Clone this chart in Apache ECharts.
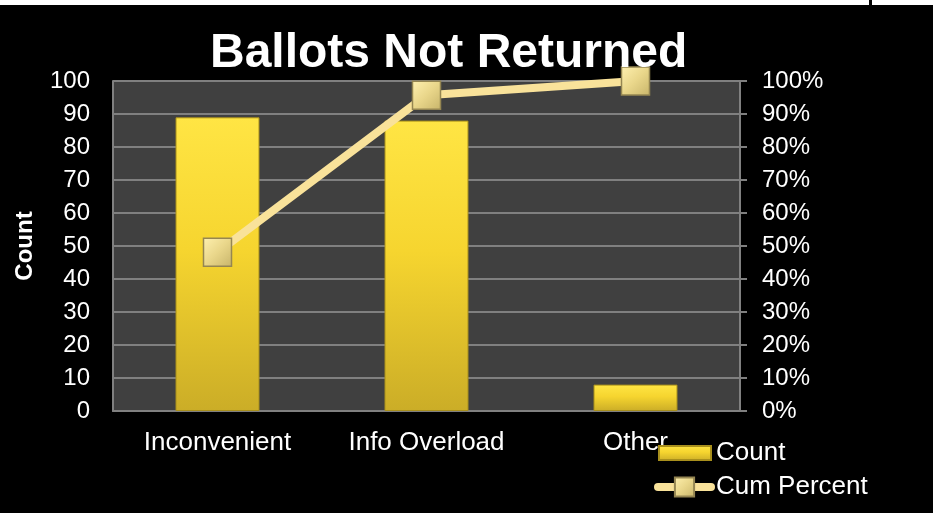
<!DOCTYPE html>
<html>
<head>
<meta charset="utf-8">
<script src="https://cdn.jsdelivr.net/npm/echarts@6/dist/echarts.min.js"></script>
<style>
  html, body { margin: 0; padding: 0; background: #000; }
  #chart { width: 933px; height: 513px; }
</style>
</head>
<body>
<div id="chart"></div>
<script>
const categories = ["Inconvenient", "Info Overload", "Other"];
const counts = [89, 88, 8];
const cumPercent = [48.1, 95.7, 100];

const font = "Liberation Sans, Arial, sans-serif";

const chart = echarts.init(document.getElementById("chart"), null, { renderer: "canvas" });

const barColor = new echarts.graphic.LinearGradient(0, 0, 0, 1, [
	{ offset: 0, color: "#FFE544" },
	{ offset: 0.45, color: "#F6D52F" },
	{ offset: 1, color: "#CBAD27" },
]);
const markerColor = new echarts.graphic.LinearGradient(0, 0, 1, 1, [
	{ offset: 0, color: "#FFF1B0" },
	{ offset: 0.5, color: "#E9D68A" },
	{ offset: 1, color: "#C7B46A" },
]);

//legend text
const legendText = { color: "#fff", fontSize: 26, fontFamily: font };

chart.setOption({
	backgroundColor: "#000",
	textStyle: { fontFamily: font, color: "#fff" },
	graphic: [
		{ type: "rect", shape: { x: 0, y: 0, width: 869, height: 5 }, style: { fill: "#fff" }, silent: true },
		{ type: "rect", shape: { x: 872, y: 0, width: 61, height: 5 }, style: { fill: "#fff" }, silent: true },
	],
	title: {
		text: "Ballots Not Returned",
		left: 205,
		top: 25,
		textStyle: { color: "#fff", fontSize: 48, fontWeight: "bold", fontFamily: font },
	},
	grid: {
		left: 113,
		top: 81,
		width: 627,
		height: 330,
		show: true,
		backgroundColor: "#404040",
		borderWidth: 0,
	},
	legend: [
		{
			left: 658,
			top: 440,
			padding: 0,
			itemWidth: 52,
			itemHeight: 14,
			icon: "rect",
			textStyle: legendText,
			data: ["Count"],
		},
		{
			left: 654,
			top: 474,
			padding: 0,
			itemWidth: 53,
			itemHeight: 24,
			lineStyle: { width: 8, cap: "round" },
			textStyle: legendText,
			data: ["Cum Percent"],
		},
	],
	xAxis: {
		type: "category",
		data: categories,
		axisLine: { lineStyle: { color: "#808080", width: 2 } },
		axisTick: { show: false },
		axisLabel: { color: "#fff", fontSize: 26, margin: 19, fontFamily: font },
	},
	yAxis: [
		{
			type: "value",
			min: 0,
			max: 100,
			interval: 10,
			name: "Count",
			nameLocation: "middle",
			nameGap: 76,
			nameTextStyle: { color: "#fff", fontSize: 24, fontWeight: "bold", fontFamily: font },
			axisLine: { show: true, lineStyle: { color: "#808080", width: 2 } },
			axisTick: { show: false },
			axisLabel: { color: "#fff", fontSize: 24, margin: 23, fontFamily: font },
			splitLine: { lineStyle: { color: "#808080", width: 2 } },
		},
		{
			type: "value",
			min: 0,
			max: 100,
			interval: 10,
			position: "right",
			axisLine: { show: true, lineStyle: { color: "#808080", width: 2 } },
			axisTick: { show: true, length: 7, lineStyle: { color: "#808080", width: 2 } },
			axisLabel: { color: "#fff", fontSize: 24, margin: 22, formatter: "{value}%", fontFamily: font },
			splitLine: { show: false },
		},
	],
	series: [
		{
			name: "Count",
			type: "bar",
			data: counts,
			barWidth: 84,
			itemStyle: { color: barColor, borderColor: "#A88F1C", borderWidth: 1 },
		},
		{
			name: "Cum Percent",
			type: "line",
			yAxisIndex: 1,
			data: cumPercent,
			symbol: "rect",
			symbolSize: 28,
			lineStyle: { color: "#F9E29A", width: 8 },
			itemStyle: { color: markerColor, borderColor: "#958652", borderWidth: 1.5 },
			z: 5,
		},
	],
});
</script>
</body>
</html>
